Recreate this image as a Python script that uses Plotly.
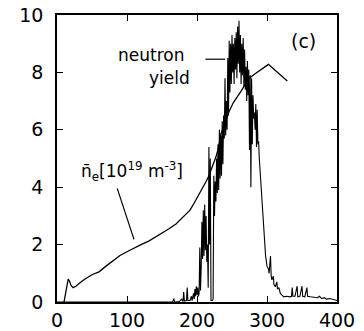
import plotly.graph_objects as go

# line-averaged density n_e [1e19 m^-3] vs time
ne_t = [10, 12, 14, 16, 18, 20, 23, 27, 32, 40, 50, 60, 70, 80, 90, 100, 110, 120, 131,
        140, 150, 160, 170, 177, 184, 190, 196, 202, 208, 213, 217, 222, 227, 231, 234,
        238, 242, 246, 252, 258, 263, 268, 274, 280, 286, 292, 297, 302, 308, 314, 320,
        325, 329]
ne_v = [0.0, 0.3, 0.65, 0.8, 0.72, 0.58, 0.5, 0.55, 0.65, 0.8, 0.95, 1.05, 1.25, 1.45,
        1.62, 1.75, 1.88, 2.0, 2.12, 2.25, 2.4, 2.55, 2.72, 2.9, 3.05, 3.2, 3.45, 3.7,
        3.95, 4.2, 4.4, 4.7, 5.05, 5.4, 5.85, 6.1, 6.35, 6.65, 6.95, 7.15, 7.35, 7.55,
        7.78, 7.9, 8.0, 8.1, 8.2, 8.28, 8.15, 8.02, 7.89, 7.78, 7.7]

# neutron yield (arb. units) vs time
nt_t = [0, 150, 165, 167, 168, 175, 178, 180, 181, 182, 185, 186, 187, 190, 192, 193,
        195, 196, 197, 198, 199, 200, 201, 202, 203, 204, 205, 206, 207, 208, 209, 210,
        211, 212, 213, 214, 215, 216, 217, 218, 219, 220, 222, 223, 224, 225, 226, 227,
        228, 229, 230, 231, 232, 233, 234, 235, 236, 237, 238, 239, 240, 241, 242, 243,
        244, 245, 246, 247, 248, 249, 250, 251, 252, 253, 254, 255, 256, 257, 258, 259,
        260, 261, 262, 263, 264, 265, 266, 267, 268, 269, 270, 271, 272, 273, 274, 275,
        276, 277, 278, 279, 280, 281, 282, 283, 284, 285, 286, 287, 288, 289, 290, 291,
        293, 296, 298, 300, 302, 303, 304, 305, 306, 307, 309, 310, 312, 314, 315, 317,
        319, 322, 324, 328, 333, 335, 336, 337, 340, 343, 344, 347, 350, 351, 354, 357,
        358, 362, 368, 372, 375, 378, 382, 385, 390, 395, 398, 400]
nt_v = [0, 0, 0.0, 0.12, 0, 0.02, 0.1, 0.02, 0.35, 0.03, 0.05, 0.5, 0.05, 0.05, 0.2, 0.05,
        0.3, 0.1, 0.45, 0.2, 0.55, 0.25, 0.5, 0.2, 0.3, 1.9, 0.4, 1.2, 2.8, 1.5, 3.2, 1.6,
        3.4, 1.8, 3.0, 1.4, 2.0, 0.5, 5.4, 2.0, 5.0, 0.05, 0.05, 0.1, 4.4, 3.0, 4.2, 3.5,
        5.0, 3.8, 5.5, 3.9, 6.0, 4.3, 5.8, 4.4, 6.3, 4.8, 6.5, 5.7, 7.8, 5.8, 7.0, 6.0,
        8.5, 6.5, 9.1, 7.3, 9.0, 7.6, 9.3, 8.0, 9.0, 7.6, 9.2, 8.1, 9.4, 7.8, 9.6, 8.3,
        9.8, 8.0, 9.3, 7.6, 9.0, 7.9, 9.2, 7.5, 8.8, 7.4, 8.2, 7.0, 8.4, 7.2, 8.1, 5.3,
        7.9, 4.0, 7.8, 5.5, 7.2, 6.4, 6.6, 6.0, 6.9, 5.4, 6.7, 5.5, 5.6, 5.0, 4.6, 4.25,
        3.44, 2.5, 1.6, 1.25, 1.15, 1.0, 1.3, 1.6, 0.9, 0.77, 0.9, 0.6, 0.53, 0.7, 0.45, 0.5,
        0.3, 0.22, 0.18, 0.2, 0.18, 0.2, 0.5, 0.2, 0.2, 0.55, 0.18, 0.2, 0.55, 0.2, 0.18, 0.5,
        0.2, 0.18, 0.16, 0.15, 0.2, 0.12, 0.15, 0.1, 0.12, 0.08, 0.07, 0.05]

x_ticks = [0, 100, 200, 300, 400]
y_ticks = [0, 2, 4, 6, 8, 10]

# label leader lines (data coords)
ne_leader_x = [86, 110]
ne_leader_y = [3.96, 2.18]
nt_leader_x = [212, 240]
nt_leader_y = [8.46, 8.46]

FONT = "DejaVu Sans"
fig = go.Figure()
fig.add_trace(go.Scatter(x=nt_t, y=nt_v, mode="lines",
                         line=dict(color="black", width=1.1), hoverinfo="skip"))
fig.add_trace(go.Scatter(x=ne_t, y=ne_v, mode="lines",
                         line=dict(color="black", width=1.3), hoverinfo="skip"))
fig.add_trace(go.Scatter(x=ne_leader_x, y=ne_leader_y, mode="lines",
                         line=dict(color="black", width=1.2), hoverinfo="skip"))
fig.add_trace(go.Scatter(x=nt_leader_x, y=nt_leader_y, mode="lines",
                         line=dict(color="black", width=1.2), hoverinfo="skip"))

ann = dict(showarrow=False, xref="x", yref="y",
           font=dict(family=FONT, size=17, color="black"))
fig.add_annotation(x=134, y=8.6, text="neutron", xanchor="center", yanchor="middle", **ann)
fig.add_annotation(x=160, y=7.8, text="yield", xanchor="center", yanchor="middle", **ann)
fig.add_annotation(x=352, y=9.1, text="(c)", xanchor="center", yanchor="middle",
                   showarrow=False, xref="x", yref="y",
                   font=dict(family=FONT, size=19, color="black"))
fig.add_annotation(x=107, y=4.55,
                   text="n\u0304<sub>e</sub>[10<sup>19</sup> m<sup>-3</sup>]",
                   xanchor="center", yanchor="middle", **ann)

axis_common = dict(showline=True, linecolor="black", linewidth=1.5, mirror="ticks",
                   ticks="inside", ticklen=6, tickwidth=1.2, tickcolor="black",
                   showgrid=False, zeroline=False, automargin=False,
                   tickfont=dict(family=FONT, size=19, color="black"))
fig.update_xaxes(range=[0, 400], tickvals=x_ticks, ticktext=[str(v) for v in x_ticks],
                 ticklabelstandoff=0, **axis_common)
fig.update_yaxes(range=[0, 10], tickvals=y_ticks, ticktext=[str(v) for v in y_ticks],
                 ticklabelstandoff=8, **axis_common)
fig.update_layout(width=364, height=331, showlegend=False,
                  margin=dict(l=57, r=27, t=15, b=29, pad=0),
                  plot_bgcolor="white", paper_bgcolor="white")
fig.write_html("out.html")
